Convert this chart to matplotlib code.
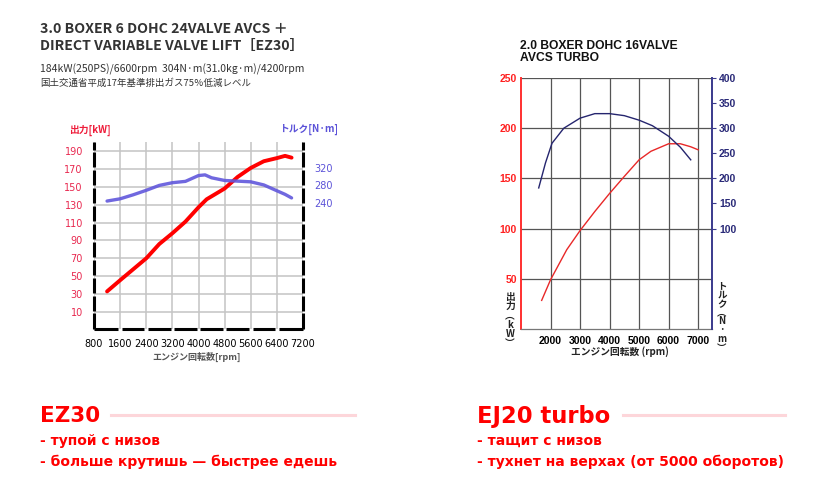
import numpy as np
import matplotlib
matplotlib.use("Agg")
import matplotlib.pyplot as plt

W, H = 818, 487

# --- EZ30 (left chart) ---
ez_rpm = [1200, 1600, 2400, 2800, 3200, 3600, 4000, 4250, 4800, 5200, 5600, 6000, 6400, 6650, 6850]
ez_kw = [33, 45.5, 70, 86, 98, 111, 127, 136, 148, 161, 171, 178.5, 182, 184.5, 182.5]
ez_tq_rpm = [1200, 1600, 2000, 2400, 2800, 3200, 3600, 4000, 4200, 4400, 4800, 5200, 5600, 6000, 6400, 6650, 6850]
ez_tq = [245, 250, 259, 269, 280, 286, 289, 302, 303.5, 297, 291, 289.5, 288, 281, 268, 260, 252]
ez_xticks = [800, 1600, 2400, 3200, 4000, 4800, 5600, 6400, 7200]
ez_kw_ticks = [10, 30, 50, 70, 90, 110, 130, 150, 170, 190]
ez_tq_ticks = [240, 280, 320]

# --- EJ20 turbo (right chart) ---
ej_rpm = [1700, 2000, 2550, 3000, 3500, 4000, 4500, 5000, 5400, 6000, 6400, 6750, 7000]
ej_kw = [28.5, 49, 79, 98, 117, 135, 152, 168.5, 177, 184.5, 184.5, 181.5, 178.5]
ej_tq_rpm = [1600, 1830, 2050, 2450, 3000, 3500, 4000, 4500, 5000, 5450, 6000, 6400, 6750]
ej_tq = [181, 231, 270, 300, 320, 329, 329, 325, 316, 305, 284, 262, 237]
ej_xticks = [2000, 3000, 4000, 5000, 6000, 7000]
ej_kw_ticks = [50, 100, 150, 200, 250]
ej_tq_ticks = [100, 150, 200, 250, 300, 350, 400]

JP = ['Noto Sans CJK JP', 'DejaVu Sans']


def fx(x):
    return x / W


def fy(y):
    return 1 - y / H


fig = plt.figure(figsize=(W / 100, H / 100), dpi=100)
fig.patch.set_facecolor('white')

# header text top left
fig.text(fx(40), fy(29), "3.0 BOXER 6 DOHC 24VALVE AVCS ＋", family=JP, weight='bold',
         fontsize=10.2, color='#333333', va='center')
fig.text(fx(40), fy(46), "DIRECT VARIABLE VALVE LIFT［EZ30］", family=JP, weight='bold',
         fontsize=10.2, color='#333333', va='center')
fig.text(fx(40), fy(69), "184kW(250PS)/6600rpm  304N·m(31.0kg·m)/4200rpm", family=JP,
         fontsize=7.5, color='#333333', va='center')
fig.text(fx(40), fy(83), "国土交通省平成17年基準排出ガス75％低減レベル", family=JP,
         fontsize=6.8, color='#333333', va='center')

# ================= left chart =================
ax = fig.add_axes([fx(94), fy(329), fx(303) - fx(94), fy(142) - fy(329)])
x0, x1 = 800, 7200
y0, y1 = -9, 200
ax.set_xlim(x0, x1)
ax.set_ylim(y0, y1)
for s in ax.spines.values():
    s.set_visible(False)
ax.set_xticks(ez_xticks)
ax.set_yticks(ez_kw_ticks)
ax.grid(True, color='#c4c4c4', lw=1.1)
ax.tick_params(length=0, labelsize=7, pad=5)
ax.tick_params(axis='y', labelcolor='#e8284f', pad=8)
ax.tick_params(axis='x', pad=7)
ax.set_xticklabels([str(v) for v in ez_xticks], fontsize=7)

# dashed black frame: gaps where gridlines meet
gy = 1.6
ys = [y0] + ez_kw_ticks + [y1]
for xe in (x0, x1):
    for a, b in zip(ys[:-1], ys[1:]):
        a2 = a + gy if a != y0 else a
        b2 = b - gy if b != y1 else b
        ax.plot([xe, xe], [a2, b2], color='black', lw=2.2, solid_capstyle='butt', clip_on=False, zorder=5)
gx = 55
xs = ez_xticks
for a, b in zip(xs[:-1], xs[1:]):
    a2 = a + gx if a != x0 else a - 10
    b2 = b - gx if b != x1 else b + 10
    ax.plot([a2, b2], [y0, y0], color='black', lw=2.2, solid_capstyle='butt', clip_on=False, zorder=5)

ax.plot(ez_rpm, ez_kw, color='#ff0000', lw=2.8, solid_capstyle='round', zorder=4)

ax2 = ax.twinx()
ax2.set_ylim(2 * y0 - 23, 2 * y1 - 23)
for s in ax2.spines.values():
    s.set_visible(False)
ax2.set_yticks(ez_tq_ticks)
ax2.tick_params(length=0, labelsize=7, labelcolor='#5b52d8', pad=8)
ax2.plot(ez_tq_rpm, ez_tq, color='#6157dc', lw=2.4, alpha=0.9, solid_capstyle='round', zorder=3)

fig.text(fx(69), fy(130), "出力[kW]", family=JP, weight='bold', fontsize=7, color='#ee1c3a', va='center')
fig.text(fx(279), fy(129), "トルク[N·m]", family=JP, weight='bold', fontsize=7, color='#5b52d8', va='center')
fig.text(fx(197), fy(357), "エンジン回転数[rpm]", family=JP, weight='bold', fontsize=6.5,
         color='#555555', va='center', ha='center')

# ================= right chart =================
bx = fig.add_axes([fx(521), fy(329), fx(712) - fx(521), fy(78) - fy(329)])
bx.set_xlim(1000, 7470)
bx.set_ylim(0, 250)
bx.set_xticks(ej_xticks)
bx.set_yticks(ej_kw_ticks)
bx.grid(True, color='#555555', lw=0.9)
bx.spines['top'].set_visible(False)
bx.spines['right'].set_visible(False)
bx.spines['left'].set_color('#ff3030')
bx.spines['left'].set_linewidth(1.4)
bx.spines['bottom'].set_color('#777777')
bx.spines['bottom'].set_linewidth(0.9)
bx.tick_params(length=0, labelsize=7.5, pad=3)
bx.tick_params(axis='y', labelcolor='#ff2020')
bx.tick_params(axis='x', pad=5)
for lab in bx.get_xticklabels() + bx.get_yticklabels():
    lab.set_family('Liberation Sans')
    lab.set_weight('bold')
bx.plot(ej_rpm, ej_kw, color='#e82828', lw=1.0, zorder=4)

bx2 = bx.twinx()
bx2.set_ylim(-100, 400)
bx2.set_yticks(ej_tq_ticks)
for s in ('top', 'left', 'bottom'):
    bx2.spines[s].set_visible(False)
bx2.spines['right'].set_color('#3a3a8c')
bx2.spines['right'].set_linewidth(1.4)
bx2.tick_params(length=3, width=0.8, color='#3a3a8c', labelsize=7.5, labelcolor='#2a2a78', pad=2)
for lab in bx2.get_yticklabels():
    lab.set_family('Liberation Sans')
    lab.set_weight('bold')
bx2.plot(ej_tq_rpm, ej_tq, color='#25256e', lw=1.0, zorder=4)

fig.text(fx(520), fy(52), "2.0 BOXER DOHC 16VALVE\nAVCS TURBO", family='Liberation Sans',
         weight='bold', fontsize=8.7, color='#111111', va='center', linespacing=0.95)
fig.text(fx(510), fy(292), "出\n力\n︵\nk\nW\n︶", family=JP, weight='bold', fontsize=7,
         color='#222222', va='top', ha='center', linespacing=0.9)
fig.text(fx(722), fy(281), "ト\nル\nク\n︵\nN\n·\nm\n︶", family=JP, weight='bold', fontsize=6.8,
         color='#222222', va='top', ha='center', linespacing=0.85)
fig.text(fx(620), fy(352), "エンジン回転数 (rpm)", family=JP, weight='bold', fontsize=7,
         color='#222222', va='center', ha='center')

# ================= captions =================
RED = '#ff0000'
PINK = '#fdd6da'
fig.text(fx(40), fy(416), "EZ30", family='DejaVu Sans', weight='bold', fontsize=15.5, color=RED, va='center')
fig.add_artist(plt.Line2D([fx(111), fx(355)], [fy(415), fy(415)], color=PINK, lw=2.2))
fig.text(fx(40), fy(441), "- тупой с низов", family='DejaVu Sans', weight='bold', fontsize=10, color=RED, va='center')
fig.text(fx(40), fy(462), "- больше крутишь — быстрее едешь", family='DejaVu Sans', weight='bold', fontsize=10,
         color=RED, va='center')

fig.text(fx(477), fy(416), "EJ20 turbo", family='DejaVu Sans', weight='bold', fontsize=16.3, color=RED, va='center')
fig.add_artist(plt.Line2D([fx(623), fx(785)], [fy(415), fy(415)], color=PINK, lw=2.2))
fig.text(fx(477), fy(441), "- тащит с низов", family='DejaVu Sans', weight='bold', fontsize=10, color=RED, va='center')
fig.text(fx(477), fy(462), "- тухнет на верхах (от 5000 оборотов)", family='DejaVu Sans', weight='bold', fontsize=10,
         color=RED, va='center')

fig.savefig("out.png", dpi=100)
